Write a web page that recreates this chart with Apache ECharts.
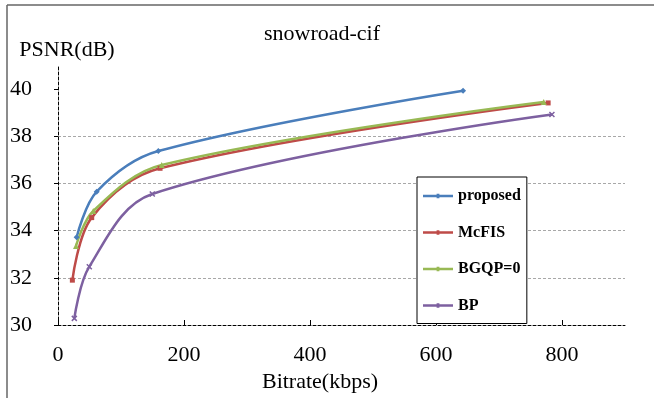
<!DOCTYPE html>
<html>
<head>
<meta charset="utf-8">
<script src="https://cdn.jsdelivr.net/npm/echarts@6/dist/echarts.min.js"></script>
<style>
html,body{margin:0;padding:0;background:#fff;}
#chart{width:654px;height:398px;}
</style>
</head>
<body>
<div id="chart"></div>
<script>
// Data
const seriesNames = ['proposed', 'McFIS', 'BGQP=0', 'BP'];
const proposedBitrate = [29.6, 61.4, 159.2, 643];
const proposedPSNR = [33.72, 35.65, 37.37, 39.93];
const mcfisBitrate = [22.8, 53.5, 162, 778];
const mcfisPSNR = [31.9, 34.55, 36.64, 39.41];
const bgqpBitrate = [28.6, 56, 164.6, 771];
const bgqpPSNR = [33.35, 34.83, 36.78, 39.45];
const bpBitrate = [25.9, 49.7, 149.7, 784];
const bpPSNR = [30.28, 32.47, 35.55, 38.92];
const xTicks = [0, 200, 400, 600, 800];
const yTicks = [30, 32, 34, 36, 38, 40];

const serif = '"Liberation Serif", "DejaVu Serif", serif';
const colors = ['#4A7EBB', '#BE4B48', '#98B954', '#7D60A0'];
const symbols = ['diamond', 'rect', 'triangle', 'path://M0,0L10,10M10,0L0,10'];
const symbolSizes = [6, 5, 6, 5];
const legendIcon = 'path://M0,1h30v2.6h-30z M13.6,0h2.8v4.6h-2.8z';

function pairs(xs, ys) { return xs.map((x, i) => [x, ys[i]]); }
const allData = [
  pairs(proposedBitrate, proposedPSNR),
  pairs(mcfisBitrate, mcfisPSNR),
  pairs(bgqpBitrate, bgqpPSNR),
  pairs(bpBitrate, bpPSNR)
];

const chart = echarts.init(document.getElementById('chart'), null, {renderer: 'canvas'});
chart.setOption({
  animation: false,
  backgroundColor: '#fff',
  grid: {left: 58, right: 29, top: 65.4, bottom: 73},
  xAxis: {
    type: 'value', min: 0, max: 900, interval: 200,
    axisLine: {show: true, lineStyle: {color: '#000', type: [3, 2], width: 1}},
    axisTick: {show: true, inside: true, length: 5, customValues: xTicks, lineStyle: {color: '#000'}},
    axisLabel: {customValues: xTicks, margin: 19, color: '#000', fontFamily: serif, fontSize: 22},
    splitLine: {show: false}
  },
  yAxis: {
    type: 'value', min: 30, max: 41, interval: 2,
    axisLine: {show: true, lineStyle: {color: '#000', type: [3, 2], width: 1}},
    axisTick: {show: true, inside: false, length: 4, customValues: yTicks, lineStyle: {color: '#000'}},
    axisLabel: {customValues: yTicks, margin: 26, color: '#000', fontFamily: serif, fontSize: 22},
    splitLine: {show: true, showMaxLine: false, showMinLine: false, lineStyle: {color: '#a8a8a8', type: [3, 2], width: 1}}
  },
  legend: {
    orient: 'vertical', left: 417, top: 177,
    padding: [11, 6, 10, 6], itemGap: 20.5, itemWidth: 30, itemHeight: 4.6,
    icon: legendIcon,
    itemStyle: {borderWidth: 0},
    backgroundColor: '#fff', borderColor: '#000', borderWidth: 1, borderRadius: 0,
    textStyle: {fontFamily: serif, fontWeight: 'bold', fontSize: 16, color: '#000', lineHeight: 16},
    data: seriesNames
  },
  graphic: [
    {type: 'line', shape: {x1: 7, y1: 5, x2: 654, y2: 5}, style: {stroke: '#666', lineWidth: 1.5}},
    {type: 'line', shape: {x1: 7, y1: 5, x2: 7, y2: 398}, style: {stroke: '#666', lineWidth: 1.5}},
    {type: 'text', x: 322, y: 34, style: {text: 'snowroad-cif', font: '22px ' + serif, fill: '#000', align: 'center', verticalAlign: 'middle'}},
    {type: 'text', x: 67, y: 50, style: {text: 'PSNR(dB)', font: '22px ' + serif, fill: '#000', align: 'center', verticalAlign: 'middle'}},
    {type: 'text', x: 320, y: 382, style: {text: 'Bitrate(kbps)', font: '22px ' + serif, fill: '#000', align: 'center', verticalAlign: 'middle'}}
  ],
  series: seriesNames.map((name, i) => ({
    name: name,
    type: 'line',
    smooth: 0.35,
    data: allData[i],
    symbol: symbols[i],
    symbolSize: symbolSizes[i],
    showSymbol: true,
    color: colors[i],
    lineStyle: {width: 2.5, color: colors[i]},
    itemStyle: {color: colors[i], borderColor: colors[i], borderWidth: i === 3 ? 1.5 : 0}
  }))
});
</script>
</body>
</html>
